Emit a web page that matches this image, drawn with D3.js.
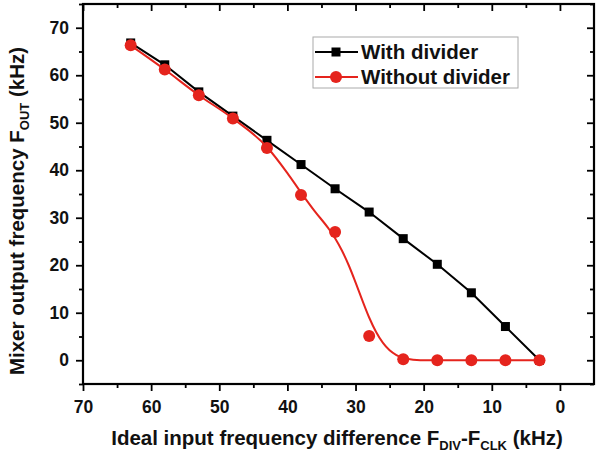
<!DOCTYPE html>
<html>
<head>
<meta charset="utf-8">
<script src="https://cdn.jsdelivr.net/npm/d3@7"></script>
<style>
  html, body { margin: 0; padding: 0; background: #fff; }
  svg { display: block; font-family: "Liberation Sans", Arial, sans-serif; font-weight: bold; }
</style>
</head>
<body>
<svg id="chart" width="596" height="458"></svg>
<script>
// ---- data ----
const xValues = [63, 58, 53, 48, 43, 38, 33, 28, 23, 18, 13, 8, 3];
const withDivider = [66.8, 62.2, 56.5, 51.4, 46.3, 41.2, 36.1, 31.2, 25.6, 20.2, 14.2, 7.1, 0];
const withoutDivider = [66.3, 61.2, 55.8, 50.9, 44.7, 34.8, 27.0, 5.1, 0.2, 0, 0, 0, 0];
// fitted curve for "Without divider" (as drawn in the reference)
const fitX = [63, 58, 53, 48, 43, 40, 38, 36, 34, 33, 32, 31, 30, 29, 28, 27, 26, 25, 24, 23, 22, 21, 20, 3];
const fitY = [66.3, 61.2, 55.8, 50.9, 44.9, 39.4, 35.3, 31.4, 27.8, 25.7, 23.1, 20.0, 16.4, 12.6, 9.0, 6.0, 3.7, 2.1, 1.1, 0.5, 0.2, 0.05, 0, 0];
const xMajorTicks = [70, 60, 50, 40, 30, 20, 10, 0];
const xMinorTicks = [65, 55, 45, 35, 25, 15, 5];
const yMajorTicks = [0, 10, 20, 30, 40, 50, 60, 70];
const yMinorTicks = [-5, 5, 15, 25, 35, 45, 55, 65, 75];
const seriesNames = ["With divider", "Without divider"];
const seriesColors = ["#000000", "#e5241d"];

// ---- layout ----
const svg = d3.select("#chart");
const L = 83, R = 594, T = 4, B = 384;
const x = d3.scaleLinear().domain([70, -5]).range([L, R]);
const y = d3.scaleLinear().domain([-5, 75]).range([B, T]);

const fmt = d3.format("d");
function styleAxis(g) {
  g.selectAll("path").remove();
  g.selectAll("line").attr("stroke", "#000").attr("stroke-width", 1.8);
  g.selectAll("text").attr("font-size", 17.5).attr("font-weight", "bold").attr("fill", "#111");
}

// bottom axis (outward ticks)
svg.append("g").attr("transform", `translate(0,${B})`)
  .call(d3.axisBottom(x).tickValues(xMajorTicks).tickSize(7).tickPadding(10).tickFormat(fmt)).call(styleAxis);
svg.append("g").attr("transform", `translate(0,${B})`)
  .call(d3.axisBottom(x).tickValues(xMinorTicks).tickSize(4).tickFormat("")).call(styleAxis);
// top axis (inward ticks)
svg.append("g").attr("transform", `translate(0,${T})`)
  .call(d3.axisTop(x).tickValues(xMajorTicks).tickSize(-7).tickFormat("")).call(styleAxis);
svg.append("g").attr("transform", `translate(0,${T})`)
  .call(d3.axisTop(x).tickValues(xMinorTicks).tickSize(-4).tickFormat("")).call(styleAxis);
// left axis (outward)
svg.append("g").attr("transform", `translate(${L},0)`)
  .call(d3.axisLeft(y).tickValues(yMajorTicks).tickSize(7).tickPadding(7).tickFormat(fmt)).call(styleAxis);
svg.append("g").attr("transform", `translate(${L},0)`)
  .call(d3.axisLeft(y).tickValues(yMinorTicks).tickSize(4).tickFormat("")).call(styleAxis);
// right axis (inward)
svg.append("g").attr("transform", `translate(${R},0)`)
  .call(d3.axisRight(y).tickValues(yMajorTicks).tickSize(-7).tickFormat("")).call(styleAxis);
svg.append("g").attr("transform", `translate(${R},0)`)
  .call(d3.axisRight(y).tickValues(yMinorTicks).tickSize(-4).tickFormat("")).call(styleAxis);

// frame
svg.append("rect").attr("x", L).attr("y", T).attr("width", R - L).attr("height", B - T)
  .attr("fill", "none").attr("stroke", "#000").attr("stroke-width", 2.2);

// ---- series ----
const ptsWith = xValues.map((v, i) => [v, withDivider[i]]);
const ptsWithout = xValues.map((v, i) => [v, withoutDivider[i]]);
const ptsFit = fitX.map((v, i) => [v, fitY[i]]);

const lineLin = d3.line().x(d => x(d[0])).y(d => y(d[1]));
const lineFit = d3.line().x(d => x(d[0])).y(d => y(d[1])).curve(d3.curveMonotoneX);

svg.append("path").attr("d", lineLin(ptsWith)).attr("fill", "none")
  .attr("stroke", seriesColors[0]).attr("stroke-width", 2);
svg.selectAll("rect.sq").data(ptsWith).enter().append("rect").attr("class", "sq")
  .attr("x", d => x(d[0]) - 4.5).attr("y", d => y(d[1]) - 4.5)
  .attr("width", 9).attr("height", 9).attr("fill", seriesColors[0]);

svg.append("path").attr("d", lineFit(ptsFit)).attr("fill", "none")
  .attr("stroke", seriesColors[1]).attr("stroke-width", 2);
svg.selectAll("circle.dot").data(ptsWithout).enter().append("circle").attr("class", "dot")
  .attr("cx", d => x(d[0])).attr("cy", d => y(d[1])).attr("r", 6)
  .attr("fill", seriesColors[1]);

// ---- legend ----
const lg = svg.append("g");
lg.append("rect").attr("x", 313).attr("y", 37).attr("width", 205).attr("height", 51)
  .attr("fill", "#fff").attr("stroke", "#aaa").attr("stroke-width", 1);
const rows = [52, 77];
seriesNames.forEach((name, i) => {
  lg.append("line").attr("x1", 315).attr("x2", 358).attr("y1", rows[i]).attr("y2", rows[i])
    .attr("stroke", seriesColors[i]).attr("stroke-width", 2);
  if (i === 0) {
    lg.append("rect").attr("x", 336 - 4.5).attr("y", rows[i] - 4.5).attr("width", 9).attr("height", 9)
      .attr("fill", seriesColors[i]);
  } else {
    lg.append("circle").attr("cx", 336).attr("cy", rows[i]).attr("r", 6).attr("fill", seriesColors[i]);
  }
  lg.append("text").attr("x", 361).attr("y", rows[i] + 7).attr("font-size", 20.5)
    .attr("fill", "#111").text(name);
});

// ---- axis titles ----
const xt = svg.append("text").attr("x", 337).attr("y", 445).attr("text-anchor", "middle")
  .attr("font-size", 20.5).attr("fill", "#111");
xt.append("tspan").text("Ideal input frequency difference F");
xt.append("tspan").attr("font-size", 13).attr("dy", 5).text("DIV");
xt.append("tspan").attr("dy", -5).text("-F");
xt.append("tspan").attr("font-size", 13).attr("dy", 5).text("CLK");
xt.append("tspan").attr("dy", -5).text(" (kHz)");

const yt = svg.append("text").attr("transform", "translate(24,211) rotate(-90)")
  .attr("text-anchor", "middle").attr("font-size", 20.5).attr("fill", "#111");
yt.append("tspan").text("Mixer output frequency F");
yt.append("tspan").attr("font-size", 13).attr("dy", 5).text("OUT");
yt.append("tspan").attr("dy", -5).text(" (kHz)");
</script>
</body>
</html>
